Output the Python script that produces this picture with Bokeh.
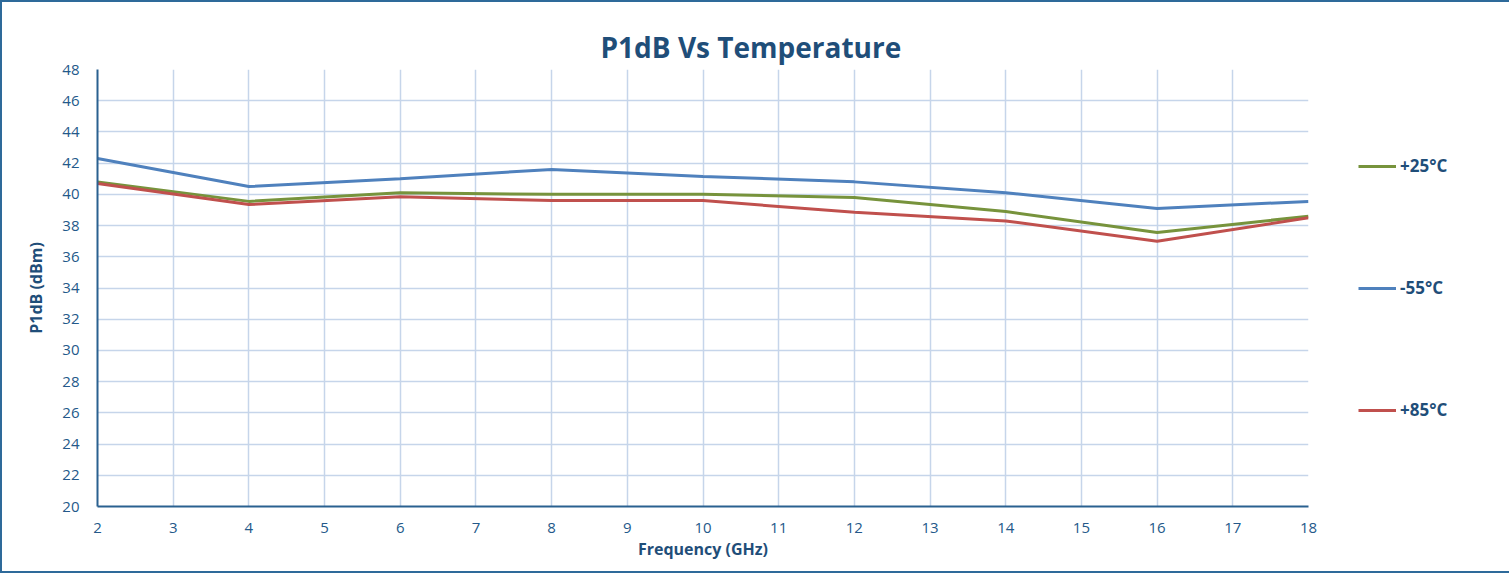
from bokeh.plotting import figure
from bokeh.models import Legend, LegendItem, FixedTicker, Range1d, Title
from bokeh.embed import file_html
from bokeh.resources import INLINE

freq = [2, 4, 6, 8, 10, 12, 14, 16, 18]
p25 = [40.8, 39.55, 40.1, 40.0, 40.0, 39.8, 38.9, 37.55, 38.6]
m55 = [42.3, 40.5, 41.0, 41.6, 41.15, 40.8, 40.1, 39.1, 39.55]
p85 = [40.7, 39.35, 39.85, 39.6, 39.6, 38.85, 38.3, 37.0, 38.5]
x_ticks = list(range(2, 19))
y_ticks = list(range(20, 49, 2))

TXT = "#1F4E79"
FONT = "Open Sans"

p = figure(frame_width=1211, frame_height=437, output_backend="svg", toolbar_location=None,
           x_range=Range1d(2, 18), y_range=Range1d(20, 48),
           min_border_left=95, min_border_right=190, min_border_top=67, min_border_bottom=65)
p.styles = {"border": "2px solid #2E6A9A"}
p.outline_line_color = None
p.background_fill_color = "white"
p.border_fill_color = "white"

t = Title(text="P1dB Vs Temperature", align="left", offset=503, standoff=8,
          text_font=FONT, text_font_size="28px", text_font_style="bold", text_color=TXT)
p.add_layout(t, "above")
p.title.visible = False

p.xaxis.ticker = FixedTicker(ticks=x_ticks)
p.yaxis.ticker = FixedTicker(ticks=y_ticks)
for ax in (p.xaxis[0], p.yaxis[0]):
    ax.major_tick_line_color = None
    ax.minor_tick_line_color = None
    ax.axis_line_color = "#2A6190"
    ax.axis_line_width = 2
    ax.major_label_text_font = FONT
    ax.major_label_text_font_size = "15px"
    ax.major_label_text_color = "#24598A"
    ax.axis_label_text_font = FONT
    ax.axis_label_text_font_size = "16px"
    ax.axis_label_text_font_style = "bold"
    ax.axis_label_text_color = TXT
p.xaxis.axis_label = "Frequency (GHz)"
p.yaxis.axis_label = "P1dB (dBm)"
p.xaxis.major_label_standoff = 10
p.yaxis.major_label_standoff = 12
p.xaxis.axis_label_standoff = 2
p.yaxis.axis_label_standoff = 12

p.xgrid.grid_line_color = "#C6D5EA"
p.ygrid.grid_line_color = "#C6D5EA"
p.xgrid.grid_line_width = 1.5
p.ygrid.grid_line_width = 1.5

r25 = p.line(freq, p25, line_color="#77933C", line_width=3)
r55 = p.line(freq, m55, line_color="#4F81BD", line_width=3)
r85 = p.line(freq, p85, line_color="#C0504D", line_width=3)

legend = Legend(items=[LegendItem(label="+25°C", renderers=[r25]),
                       LegendItem(label="-55°C", renderers=[r55]),
                       LegendItem(label="+85°C", renderers=[r85])],
                location="center_left", orientation="vertical",
                margin=50, padding=0, spacing=98,
                glyph_width=38, glyph_height=24, label_height=24, label_standoff=4,
                border_line_color=None, background_fill_alpha=0,
                label_text_font=FONT, label_text_font_size="17px",
                label_text_font_style="bold", label_text_color=TXT)
p.add_layout(legend, "right")

open("out.html", "w").write(file_html(p, INLINE))
